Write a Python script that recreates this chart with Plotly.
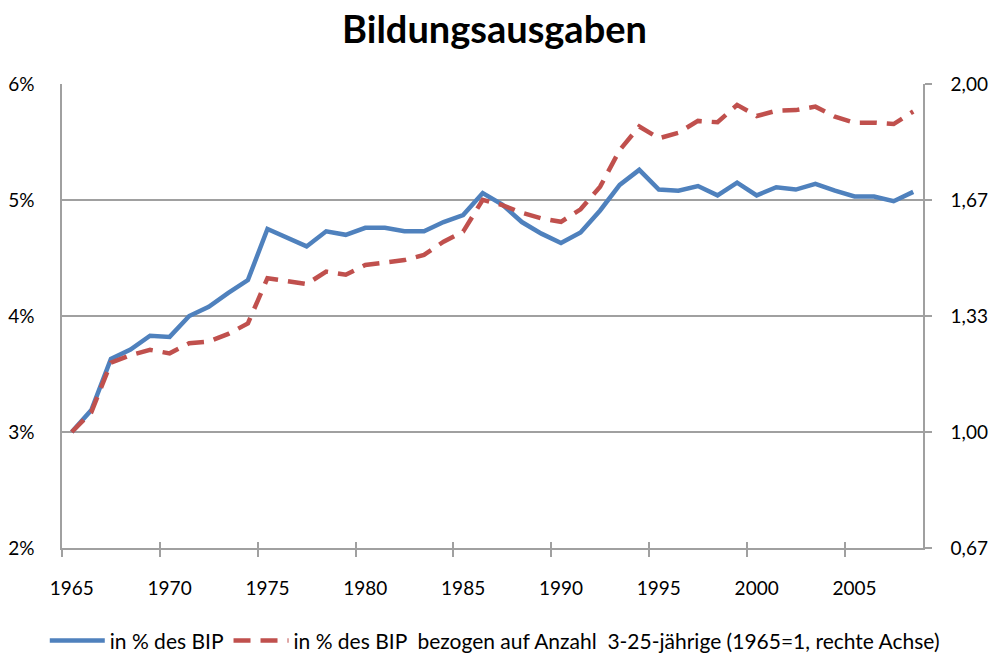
import plotly.graph_objects as go

years = list(range(1965, 2009))

# in % des BIP (left axis, percent)
bip_share = [3.00, 3.19, 3.63, 3.71, 3.83, 3.82, 4.00, 4.08, 4.20, 4.31,
             4.75, 4.67, 4.60, 4.73, 4.70, 4.76, 4.76, 4.73, 4.73, 4.81,
             4.87, 5.06, 4.96, 4.81, 4.71, 4.63, 4.72, 4.91, 5.13, 5.26,
             5.09, 5.08, 5.12, 5.04, 5.15, 5.04, 5.11, 5.09, 5.14, 5.08,
             5.03, 5.03, 4.99, 5.07]

# in % des BIP bezogen auf Anzahl 3-25-jährige (1965=1, right axis)
per_young = [1.000, 1.057, 1.199, 1.221, 1.236, 1.226, 1.255, 1.260, 1.282, 1.312,
             1.442, 1.434, 1.425, 1.461, 1.452, 1.480, 1.488, 1.494, 1.509, 1.547,
             1.576, 1.667, 1.652, 1.630, 1.614, 1.604, 1.640, 1.705, 1.810, 1.878,
             1.844, 1.860, 1.894, 1.890, 1.940, 1.908, 1.923, 1.925, 1.935, 1.906,
             1.889, 1.889, 1.885, 1.921]

left_ticks = [2, 3, 4, 5, 6]
left_labels = ["2%", "3%", "4%", "5%", "6%"]
right_ticks = [2/3, 1.0, 4/3, 5/3, 2.0]
right_labels = ["0,67", "1,00", "1,33", "1,67", "2,00"]
label_years = [1965, 1970, 1975, 1980, 1985, 1990, 1995, 2000, 2005]
tick_marks = [1964.5, 1969.5, 1974.5, 1979.5, 1984.5, 1989.5, 1994.5, 1999.5, 2004.5]

BLUE = "#4F81BD"
RED = "#C0504D"
GRAY = "#A0A0A0"
FONT = "Lato"

fig = go.Figure()
fig.add_trace(go.Scatter(
    x=years, y=bip_share, mode="lines", name="in % des BIP",
    line=dict(color=BLUE, width=4.5), xaxis="x", yaxis="y"))
fig.add_trace(go.Scatter(
    x=years, y=per_young, mode="lines",
    name="in % des BIP  bezogen auf Anzahl  3-25-jährige (1965=1, rechte Achse)",
    line=dict(color=RED, width=4.5, dash="17px,10px"), xaxis="x2", yaxis="y2"))

xr = [1964.5, 2008.5]
fig.update_layout(
    width=989, height=654,
    margin=dict(l=62, r=66, t=84, b=106, autoexpand=False),
    paper_bgcolor="white", plot_bgcolor="white",
    font=dict(family=FONT, size=19, color="black"),
    title=dict(text="<b>Bildungsausgaben</b>", x=0.5, xanchor="center",
               y=0.955, yanchor="middle", yref="container",
               font=dict(family=FONT, size=38, color="black")),
    xaxis=dict(range=xr, tickmode="array", tickvals=label_years,
               ticktext=[str(v) for v in label_years], ticks="",
               showgrid=False, showline=True, linecolor=GRAY, linewidth=1.5,
               zeroline=False, ticklabelstandoff=22, automargin=False,
               minor=dict(tickmode="array", tickvals=tick_marks, ticks="outside",
                          ticklen=7, tickcolor=GRAY, tickwidth=1.5, showgrid=False)),
    xaxis2=dict(range=xr, overlaying="x", anchor="y2", side="bottom",
                tickmode="array", tickvals=tick_marks, ticks="inside", ticklen=6,
                tickcolor=GRAY, tickwidth=1.5, showticklabels=False,
                showgrid=False, showline=False, zeroline=False, automargin=False),
    yaxis=dict(range=[2, 6.0001], tickmode="array", tickvals=left_ticks,
               ticktext=left_labels, ticks="", showgrid=True, gridcolor=GRAY,
               gridwidth=1.5, showline=True, linecolor=GRAY, linewidth=1.5,
               zeroline=False, ticklabelstandoff=22, automargin=False),
    yaxis2=dict(range=[2/3, 2.00003], overlaying="y", side="right", anchor="x2",
                tickmode="array", tickvals=right_ticks, ticktext=right_labels,
                ticks="outside", ticklen=7, tickcolor=GRAY, tickwidth=1.5,
                showgrid=False, showline=True, linecolor=GRAY, linewidth=1.5,
                zeroline=False, ticklabelstandoff=15, automargin=False),
    showlegend=True,
    legend=dict(orientation="h", x=-0.02, xanchor="left",
                y=-0.2, yanchor="middle", font=dict(size=21),
                bgcolor="rgba(0,0,0,0)", itemwidth=55),
)

fig.write_html("out.html", config={"displayModeBar": False},
               post_script="document.body.style.margin='0px';")
